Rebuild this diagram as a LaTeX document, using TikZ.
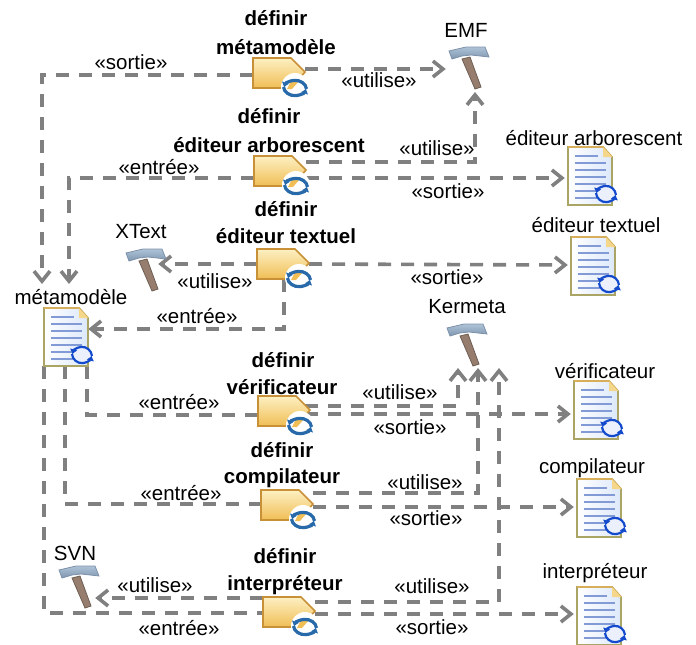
\documentclass[tikz,border=0pt]{standalone}
\usepackage{fontspec}
\setmainfont{Liberation Sans}
\usetikzlibrary{arrows.meta,calc}
\definecolor{dep}{RGB}{128,128,128}
\definecolor{taskedge}{RGB}{200,145,55}
\definecolor{tasktop}{RGB}{253,240,195}
\definecolor{taskbot}{RGB}{240,190,85}
\definecolor{taskcyc}{RGB}{40,105,170}
\definecolor{docedge}{RGB}{170,165,100}
\definecolor{doctop}{RGB}{215,175,90}
\definecolor{docfill}{RGB}{220,232,250}
\definecolor{docfold}{RGB}{245,215,140}
\definecolor{docline}{RGB}{130,155,215}
\definecolor{docback}{RGB}{235,240,252}
\definecolor{doccyc}{RGB}{20,75,205}
\definecolor{hamh}{RGB}{150,125,110}
\definecolor{hame}{RGB}{110,95,85}
\definecolor{headt}{RGB}{175,195,215}
\definecolor{headb}{RGB}{125,150,175}
\definecolor{heade}{RGB}{125,145,170}
\tikzset{
  dep/.style={draw=dep,line width=3.6pt,dash pattern=on 13pt off 10pt,-{Straight Barb[length=10pt,width=16pt,line width=3.6pt]}},
  depn/.style={draw=dep,line width=3.6pt,dash pattern=on 13pt off 10pt},
  lbl/.style={inner sep=0pt,font=\fontsize{20.5}{22}\selectfont,text=black},
  blbl/.style={inner sep=0pt,font=\fontsize{20.5}{22}\selectfont\bfseries,text=black},
  tasksize/.style={inner sep=0pt,minimum width=52pt,minimum height=30pt},
  docsize/.style={inner sep=0pt,minimum width=44pt,minimum height=58pt},
  hamsize/.style={inner sep=0pt,minimum width=42pt,minimum height=44pt},
  pics/cyc/.style args={#1/#2/#3/#4}{code={
    \draw[#3,line width=#4,-{Latex[length=5pt,width=8pt]}] (-#1,-1) arc[x radius=#1,y radius=#2,start angle=175,end angle=15];
    \draw[#3,line width=#4,-{Latex[length=5pt,width=8pt]}] (#1,1) arc[x radius=#1,y radius=#2,start angle=-5,end angle=-165];
  }},
  pics/taskicon/.style={code={
    \path[draw=taskedge,line width=1.6pt,top color=tasktop,bottom color=taskbot]
      (-26,-15) -- (12,-15) -- (26,-1) -- (12,15) -- (-26,15) -- cycle;
    \path[fill=white] (16,14) circle[radius=14pt];
    \path[fill=taskbot] (12,8) -- (20,8) -- (13,16) -- (8,16) -- cycle;
    \pic at (16,15) {cyc={11.5/9.5/taskcyc/3.2pt}};
  }},
  pics/docicon/.style={code={
    \path[draw=docedge,line width=1.6pt,left color=white,right color=docfill]
      (-22,-29) -- (13,-29) -- (22,-19) -- (22,29) -- (-22,29) -- cycle;
    \path[draw=doctop,line width=1.6pt] (-22,-29) -- (13,-29) -- (22,-19);
    \path[fill=docfold] (13,-29) -- (13,-19) -- (22,-19) -- cycle;
    \foreach \yy/\xx in {-20/8,-13/16,-6/16,1/16,8/16,15/16,22/16}
      \draw[docline,line width=1.3pt] (-15,\yy) -- (\xx,\yy);
    \path[fill=docback] (16,18) circle[radius=9pt];
    \pic at (16,18) {cyc={10/10/doccyc/2.2pt}};
  }},
  pics/hammer/.style={code={
    \path[fill=hamh,draw=hame,line width=.8pt]
      (-7,-8) -- (1,-10) -- (12,20) -- (6,22) -- cycle;
    \path[top color=headt,bottom color=headb,draw=heade,line width=.8pt]
      (-20,-16) -- (-17,-8) -- (-7,-11) -- (2,-12) -- (20,-10) -- (16,-20) -- (-3,-20) -- cycle;
  }},
}
\begin{document}
\begin{tikzpicture}[x=1pt,y=-1pt]
\useasboundingbox (0,0) rectangle (696,645);
% invisible anchors for the icons
\node[tasksize] (t1) at (279,73) {};
\node[tasksize] (t2) at (280,171) {};
\node[tasksize] (t3) at (283,264) {};
\node[tasksize] (t4) at (284,411) {};
\node[tasksize] (t5) at (287,505) {};
\node[tasksize] (t6) at (289,612) {};
\node[docsize] (meta) at (66,337) {};
\node[docsize] (darb) at (590,176) {};
\node[docsize] (dtxt) at (593,266) {};
\node[docsize] (dver) at (596,410) {};
\node[docsize] (dcom) at (599,508) {};
\node[docsize] (dint) at (599,616) {};
\node[hamsize] (emf) at (469,67) {};
\node[hamsize] (xt) at (146,269) {};
\node[hamsize] (ker) at (467,344) {};
\node[hamsize] (svn) at (79,586) {};
% bends
\coordinate (a) at (42,75);
\coordinate (a2) at (42,284);
\coordinate (b) at (69,178);
\coordinate (b2) at (69,284);
\coordinate (c) at (475,162);
\coordinate (c2) at (475,92);
\coordinate (d) at (284,329);
\coordinate (e) at (87,415);
\coordinate (f) at (65,504);
\coordinate (g) at (44,613);
\coordinate (h) at (458,406);
\coordinate (h2) at (458,368);
\coordinate (i) at (478,493);
\coordinate (i2) at (478,368);
\coordinate (j) at (499,602);
\coordinate (j2) at (499,368);
% connectors
\draw[dep] (t1.west |- a) -- (a) -- (a2);
\draw[dep] (t2.west |- b) -- (b) -- (b2);
\draw[dep] ($(t1.east)+(0,-4)$) -- ($(emf.west)+(-2,2)$);
\draw[dep] (t2.east |- c) -- (c) -- (c2);
\draw[dep] ($(t2.east)+(0,7)$) -- ($(darb.west)+(-3,2)$);
\draw[dep] (t3.west) -- ($(xt.east)+(-9,-5)$);
\draw[dep] (t3.east) -- ($(dtxt.west)+(-3,-1)$);
\draw[dep] (t3.south -| d) -- (d) -- (meta.east |- d);
\draw[depn] (meta.south -| e) -- (e) -- (t4.west |- e);
\draw[depn] (meta.south -| f) -- (f) -- (t5.west |- f);
\draw[depn] (meta.south -| g) -- (g) -- (t6.west |- g);
\draw[dep] ($(t4.east)+(-5,-5)$) -- (h) -- (h2);
\draw[dep] (t5.east |- i) -- (i) -- (i2);
\draw[dep] (t6.east |- j) -- (j) -- (j2);
\draw[dep] ($(t4.east)+(-5,3)$) -- ($(dver.west)+(-3,4)$);
\draw[dep] ($(t5.east)+(0,2)$) -- ($(dcom.west)+(-3,-1)$);
\draw[dep] ($(t6.east)+(0,2)$) -- ($(dint.west)+(-3,-2)$);
\draw[dep] ($(t6.west)+(0,-14)$) -- ($(svn.east)+(-5,12)$);
% icons on top
\foreach \n in {t1,t2,t3,t4,t5,t6} \pic at (\n) {taskicon};
\foreach \n in {meta,darb,dtxt,dver,dcom,dint} \pic at (\n) {docicon};
\foreach \n in {emf,xt,ker,svn} \pic at (\n) {hammer};
% titles
\node[blbl] (l1a) at (276,18) {définir};
\node[blbl] (l1b) at (276,47) {métamodèle};
\node[blbl] (l2a) at (269,116) {définir};
\node[blbl] (l2b) at (269,145) {éditeur arborescent};
\node[blbl] (l3a) at (286,209) {définir};
\node[blbl] (l3b) at (286,236) {éditeur textuel};
\node[blbl] (l4a) at (283,360) {définir};
\node[blbl] (l4b) at (282,387) {vérificateur};
\node[blbl] (l5a) at (282,450) {définir};
\node[blbl] (l5b) at (282,478) {compilateur};
\node[blbl] (l6a) at (285,556) {définir};
\node[blbl] (l6b) at (285,585) {interpréteur};
% tool and artefact names
\node[lbl] (n1) at (466,30) {EMF};
\node[lbl] (n2) at (141,232) {XText};
\node[lbl] (n3) at (467,307) {Kermeta};
\node[lbl] (n4) at (75,553) {SVN};
\node[lbl] (n5) at (71,297) {métamodèle};
\node[lbl] (n6) at (594,138) {éditeur arborescent};
\node[lbl] (n7) at (596,225) {éditeur textuel};
\node[lbl] (n8) at (605,371) {vérificateur};
\node[lbl] (n9) at (592,468) {compilateur};
\node[lbl] (n10) at (595,573) {interpréteur};
% stereotypes
\node[lbl] (s1) at (131,62) {<<sortie>>};
\node[lbl] (s2) at (379,80) {<<utilise>>};
\node[lbl] (s3) at (437,148) {<<utilise>>};
\node[lbl] (s4) at (448,191) {<<sortie>>};
\node[lbl] (s5) at (159,167) {<<entrée>>};
\node[lbl] (s6) at (215,281) {<<utilise>>};
\node[lbl] (s7) at (197,316) {<<entrée>>};
\node[lbl] (s8) at (447,277) {<<sortie>>};
\node[lbl] (s9) at (179,402) {<<entrée>>};
\node[lbl] (s10) at (400,392) {<<utilise>>};
\node[lbl] (s11) at (410,427) {<<sortie>>};
\node[lbl] (s12) at (181,493) {<<entrée>>};
\node[lbl] (s13) at (425,482) {<<utilise>>};
\node[lbl] (s14) at (426,518) {<<sortie>>};
\node[lbl] (s15) at (155,585) {<<utilise>>};
\node[lbl] (s16) at (179,628) {<<entrée>>};
\node[lbl] (s17) at (432,586) {<<utilise>>};
\node[lbl] (s18) at (432,627) {<<sortie>>};
\end{tikzpicture}
\end{document}
